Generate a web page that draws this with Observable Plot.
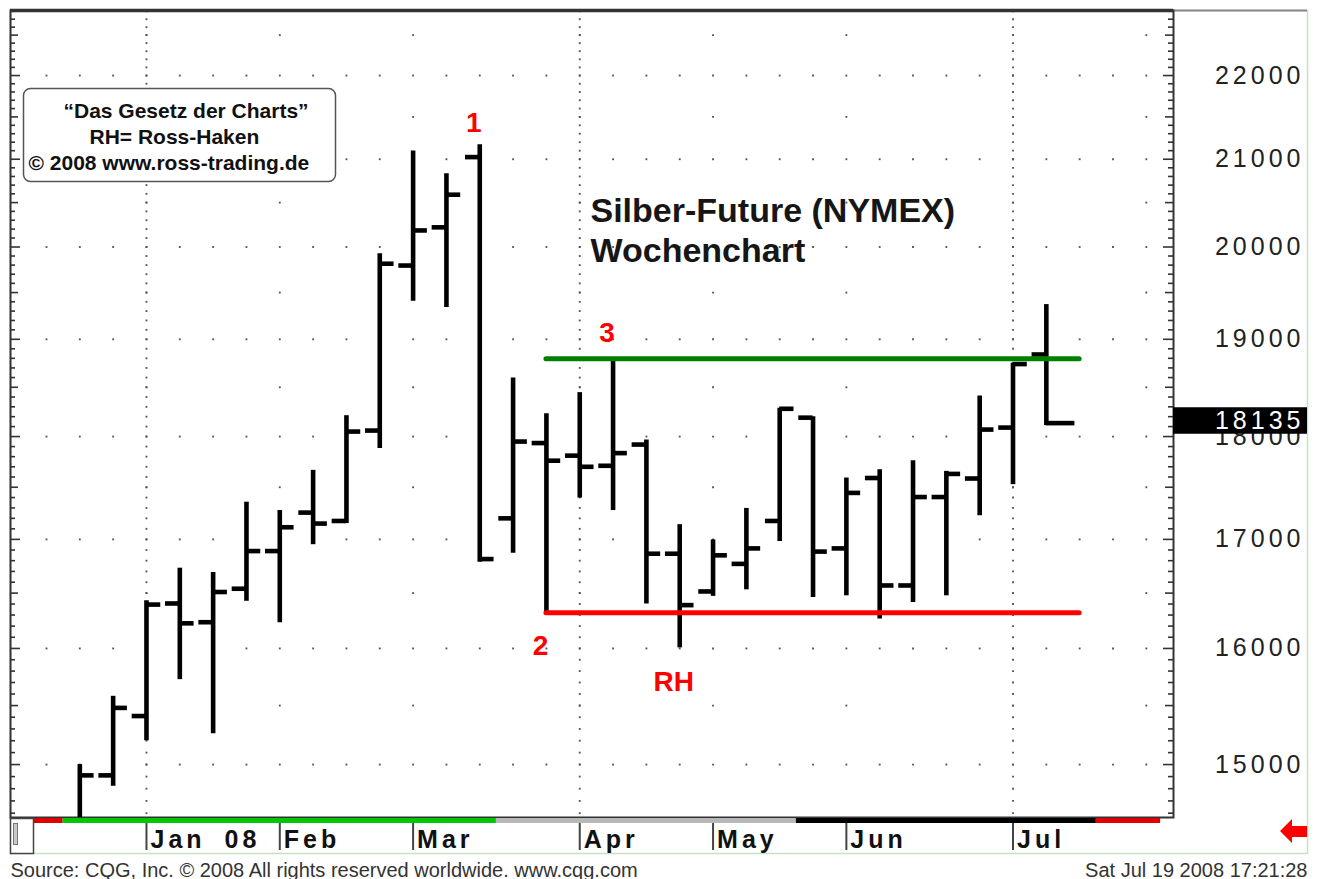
<!DOCTYPE html>
<html><head><meta charset="utf-8">
<script src="https://cdn.jsdelivr.net/npm/d3@7"></script>
<script src="https://cdn.jsdelivr.net/npm/@observablehq/plot@0.6"></script>
<style>
html,body{margin:0;padding:0;background:#fff;}
#chart svg{display:block;}
</style></head><body><div id="chart"></div>
<script>
// ---------- data ----------
const weeks = ["2007-12-24","2007-12-31","2008-01-07","2008-01-14","2008-01-21","2008-01-28","2008-02-04","2008-02-11","2008-02-18","2008-02-25","2008-03-03","2008-03-10","2008-03-17","2008-03-24","2008-03-31","2008-04-07","2008-04-14","2008-04-21","2008-04-28","2008-05-05","2008-05-12","2008-05-19","2008-05-26","2008-06-02","2008-06-09","2008-06-16","2008-06-23","2008-06-30","2008-07-07","2008-07-14"];
const open  = [14450,14910,15410,16405,16235,16540,16890,17255,17175,18060,19795,20220,21025,17200,17935,17810,17710,17920,16865,16515,16770,17175,18190,16915,17590,16570,17405,17585,18090,18840];
const high  = [15000,15580,16430,16730,16690,17355,17275,17665,18210,19925,21095,20830,21170,18595,18230,18445,18780,17965,17140,16995,17295,18285,18200,17590,17670,17760,17655,18410,18750,19370];
const low   = [14300,14820,15200,15725,15260,16425,16230,16950,17150,17880,19405,19340,16785,16870,16325,17395,17275,16400,16005,16470,16530,16980,16460,16475,16265,16415,16475,17225,17525,18110];
const close = [14910,15480,16395,16225,16510,16890,17115,17150,18050,19815,20185,20590,16815,17950,17760,17700,17835,16865,16390,16850,16915,18280,16885,17445,16570,17405,17630,18070,18740,18135];

const monthTicks  = ["2008-01-07","2008-02-04","2008-03-03","2008-04-07","2008-05-05","2008-06-02","2008-07-07"];
const monthLabels = ["Jan 08","Feb","Mar","Apr","May","Jun","Jul"];
const yTickValues = [15000,16000,17000,18000,19000,20000,21000,22000];

const resistance = 18795;
const support = 16320;
const levelStart = "2008-03-31";
const levelEnd = "2008-07-21";

const annotTexts = ["1","2","3","RH"];
const annotWeeks = ["2008-03-17","2008-03-31","2008-04-14","2008-04-28"];
const annotValues = [21170, 16320, 18795, 16005];

const stripStart = ["2007-12-09T10:34Z","2007-12-20T12:00Z","2008-03-20T12:00Z","2008-05-22T12:00Z","2008-07-24T12:00Z"];
const stripEnd   = ["2007-12-20T12:00Z","2008-03-20T12:00Z","2008-05-22T12:00Z","2008-07-24T12:00Z","2008-08-07T00:00Z"];
const stripColor = ["#e00000","#00c800","#b8b8b8","#000000","#e00000"];

const titleText = "Silber-Future (NYMEX)\nWochenchart";
const boxLines = ["“Das Gesetz der Charts”","RH= Ross-Haken","© 2008 www.ross-trading.de"];
const sourceText = "Source: CQG, Inc. © 2008 All rights reserved worldwide. www.cqg.com";
const dateText = "Sat Jul 19 2008 17:21:28";
const lastPrice = 18135;

// ---------- layout ----------
const W = 1322, H = 879, mL = 10, mR = 149, mT = 10, mB = 62;
const plotW = W - mL - mR, plotH = H - mT - mB;
const xDomain = [new Date("2007-12-09T10:34:00Z"), new Date("2008-08-09T17:00:00Z")];
const yDomain = [14565, 22810];
const FONT = "'Liberation Sans', Arial, Helvetica, sans-serif";
const DAY = 864e5;

const bars = weeks.map((w, i) => ({date: new Date(w + "T00:00:00Z"), open: open[i], high: high[i], low: low[i], close: close[i], last: i === weeks.length - 1}));
const levels100 = d3.range(14600, 22900, 100).filter(v => v >= yDomain[0] && v <= yDomain[1]);
const mondays = d3.utcMonday.range(new Date("2007-12-17T00:00Z"), new Date("2008-08-05T00:00Z"));
const firstMondays = mondays.filter(d => d.getUTCDate() <= 7);
const quarterMondays = firstMondays.filter(d => d.getUTCMonth() % 3 === 0);
const cross = (xs, ys) => xs.flatMap(x => ys.map(y => ({x, y})));
const gridWeek = cross(mondays, yTickValues);
const gridHalf = cross(firstMondays, levels100.filter(v => v % 1000 === 500));
const gridVert = cross(quarterMondays, levels100);
const strip = stripStart.map((s, i) => ({x1: new Date(s), x2: new Date(stripEnd[i]), color: stripColor[i]}));
const annots = annotTexts.map((t, i) => ({text: t, date: new Date(annotWeeks[i] + "T00:00:00Z"), value: annotValues[i]}));
const annotDy = [-22, 33, -26, 34];

function sideTicks(side) {
  const groups = [
    {f: v => v % 1000 === 0, len: 10},
    {f: v => v % 1000 === 500, len: 8},
    {f: v => v % 500 !== 0, len: 5}
  ];
  return groups.map(g => Plot.ruleY(levels100.filter(g.f), {
    y: d => d, stroke: "#333", strokeWidth: 1.6,
    insetLeft: side === "left" ? 0 : plotW - g.len,
    insetRight: side === "left" ? plotW - g.len : 0
  }));
}
const dotOpts = {x: "x", y: "y", symbol: "square", r: 1.05, fill: "#555", stroke: null};

const plot = Plot.plot({
  width: W, height: H,
  marginLeft: mL, marginRight: mR, marginTop: mT, marginBottom: mB,
  style: {background: "white", overflow: "visible"},
  x: {type: "utc", domain: xDomain, axis: null},
  y: {type: "log", domain: yDomain, axis: null},
  marks: [
    Plot.frame({insetRight: -134, insetBottom: -36, stroke: "#c4e2c4", strokeWidth: 1.5}),
    Plot.ruleY([yDomain[1]], {y: d => d, insetLeft: plotW, insetRight: -134, stroke: "#888", strokeWidth: 2}),
    Plot.dot(gridWeek, dotOpts),
    Plot.dot(gridHalf, dotOpts),
    Plot.dot(gridVert, dotOpts),
    ...sideTicks("left"),
    ...sideTicks("right"),
    Plot.ruleX(monthTicks, {x: d => new Date(d + "T00:00:00Z"), insetTop: plotH + 5, insetBottom: -33, stroke: "#444", strokeWidth: 2}),
    Plot.frame({stroke: "#333", strokeWidth: 2}),
    Plot.ruleY([yDomain[1]], {y: d => d, stroke: "#333", strokeWidth: 3.5}),
    Plot.rect(strip, {x1: "x1", x2: "x2", fill: "color", insetTop: plotH + 1, insetBottom: -6}),
    Plot.frame({insetTop: plotH + 1, insetBottom: -36, insetRight: plotW - 23, stroke: "#444", strokeWidth: 1.5, fill: "white"}),
    Plot.frame({insetLeft: 3, insetRight: plotW - 7, insetTop: plotH + 6, insetBottom: -27, stroke: "#777", strokeWidth: 1, fill: "#c8c8c8"}),
    Plot.frame({insetLeft: 13, insetTop: 78, insetRight: plotW - 325, insetBottom: plotH - 171, rx: 7, ry: 7, fill: "white", stroke: "#555", strokeWidth: 1.5}),
    Plot.text([boxLines[0]], {frameAnchor: "top-left", dx: 53, dy: 107, textAnchor: "start", lineAnchor: "bottom", fontFamily: FONT, fontSize: 21, fontWeight: "bold", fill: "#111"}),
    Plot.text([boxLines[1]], {frameAnchor: "top-left", dx: 79, dy: 133, textAnchor: "start", lineAnchor: "bottom", fontFamily: FONT, fontSize: 21, fontWeight: "bold", fill: "#111"}),
    Plot.text([boxLines[2]], {frameAnchor: "top-left", dx: 18, dy: 159, textAnchor: "start", lineAnchor: "bottom", fontFamily: FONT, fontSize: 21, fontWeight: "bold", fill: "#111"}),
    Plot.text([titleText], {frameAnchor: "top-left", dx: 580, dy: 183, textAnchor: "start", lineAnchor: "top", lineHeight: 1.17, fontFamily: FONT, fontSize: 34, fontWeight: "bold", fill: "#161616"}),
    Plot.ruleX(bars, {x: "date", y1: "low", y2: "high", stroke: "#000", strokeWidth: 4.6, clip: true}),
    Plot.ruleY(bars, {y: "open", x1: d => new Date(+d.date - 3 * DAY), x2: "date", stroke: "#000", strokeWidth: 4.6, clip: true}),
    Plot.ruleY(bars, {y: "close", x1: "date", x2: d => new Date(+d.date + (d.last ? 6 : 3) * DAY), stroke: "#000", strokeWidth: 4.6, clip: true}),
    Plot.ruleY([resistance], {y: d => d, x1: new Date(levelStart + "T00:00:00Z"), x2: new Date(levelEnd + "T00:00:00Z"), stroke: "#008000", strokeWidth: 5, strokeLinecap: "round"}),
    Plot.ruleY([support], {y: d => d, x1: new Date(levelStart + "T00:00:00Z"), x2: new Date(levelEnd + "T00:00:00Z"), stroke: "#ff0000", strokeWidth: 5, strokeLinecap: "round"}),
    ...annots.map((a, i) => Plot.text([a], {x: "date", y: "value", text: "text", dx: -6, dy: annotDy[i], fontFamily: FONT, fontSize: 28, fontWeight: "bold", fill: "#ff0000"})),
    Plot.text(yTickValues, {y: d => d, text: d => String(d), frameAnchor: "right", dx: 131, textAnchor: "end", fontFamily: FONT, fontSize: 25, fill: "#222"}),
    Plot.ruleY([lastPrice], {y: d => d, insetLeft: plotW, insetRight: -134, dy: -2.5, stroke: "#000", strokeWidth: 26.5}),
    Plot.text([lastPrice], {y: d => d, text: d => String(d), frameAnchor: "right", dx: 131, dy: -2, textAnchor: "end", fontFamily: FONT, fontSize: 25, fill: "#fff"}),
    Plot.text(monthTicks, {x: d => new Date(d + "T00:00:00Z"), text: (d, i) => monthLabels[i], frameAnchor: "bottom", dx: 4, dy: 30, textAnchor: "start", lineAnchor: "bottom", fontFamily: FONT, fontSize: 25, fontWeight: "bold", fill: "#111"}),
    Plot.text([sourceText], {frameAnchor: "bottom-left", dy: 59, textAnchor: "start", lineAnchor: "bottom", fontFamily: FONT, fontSize: 20, fill: "#333"}),
    Plot.text([dateText], {frameAnchor: "bottom-right", dx: 134, dy: 59, textAnchor: "end", lineAnchor: "bottom", fontFamily: FONT, fontSize: 20, fill: "#333"})
  ]
});
document.getElementById("chart").appendChild(plot);

const svg = d3.select(plot);
const yLabelSet = new Set(yTickValues.map(String).concat([String(lastPrice)]));
const monthSet = new Set(monthLabels);
svg.selectAll("text").filter(function () { return yLabelSet.has(this.textContent); })
  .style("letter-spacing", "4px");
svg.selectAll("text").filter(function () { return monthSet.has(this.textContent); })
  .style("letter-spacing", "4px").style("word-spacing", "8px");
const ax = W - 42, ay = H - 48;
svg.append("path")
  .attr("d", `M${ax},${ay} L${ax + 12},${ay - 12} L${ax + 12},${ay - 5} L${ax + 27},${ay - 5} L${ax + 27},${ay + 6} L${ax + 12},${ay + 6} L${ax + 12},${ay + 12} Z`)
  .attr("fill", "#ff0000");
</script>
</body></html>
